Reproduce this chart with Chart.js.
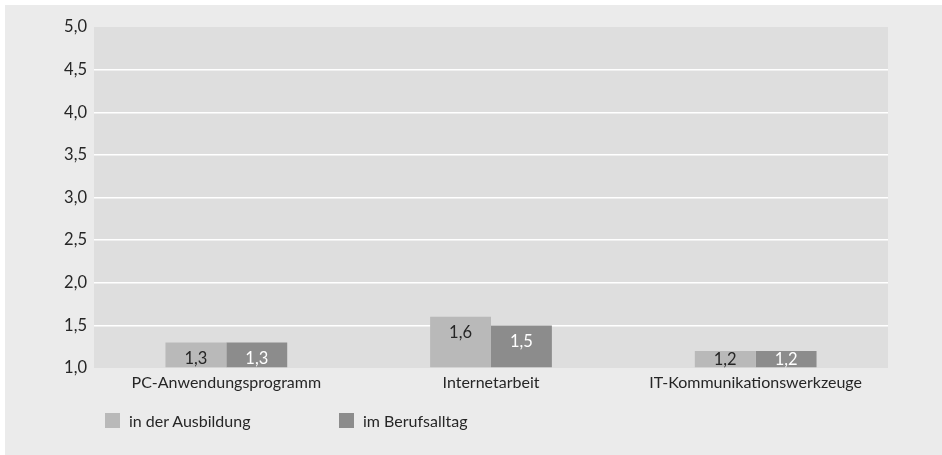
<!DOCTYPE html>
<html>
<head>
<meta charset="utf-8">
<script src="https://cdn.jsdelivr.net/npm/chart.js@4.4.1/dist/chart.umd.min.js"></script>
<style>
  body { margin: 0; background: #fff; font-family: Lato, "DejaVu Sans Condensed", sans-serif; }
  #panel { position: absolute; left: 5px; top: 5px; width: 937px; height: 450px; background: #ebebeb; }
  #chartBox { position: absolute; left: 0; top: 0; width: 937px; height: 450px; }
  .leg { position: absolute; top: 406px; font-size: 16px; color: #262626; line-height: 17px; }
  .leg span.box { position: absolute; left: 0; top: 2px; width: 15px; height: 15px; }
  .leg span.txt { position: absolute; left: 24px; top: 1px; white-space: nowrap; }
</style>
</head>
<body>
<div id="panel">
  <div id="chartBox"><canvas id="myChart"></canvas></div>
  <div class="leg" id="leg0" style="left:100px"><span class="box"></span><span class="txt"></span></div>
  <div class="leg" id="leg1" style="left:334px"><span class="box"></span><span class="txt"></span></div>
</div>
<script>
var FONT = 'Lato, "DejaVu Sans Condensed", sans-serif';

var categories = ['PC-Anwendungsprogramm', 'Internetarbeit', 'IT-Kommunikationswerkzeuge'];
var seriesNames = ['in der Ausbildung', 'im Berufsalltag'];
var ausbildung = [1.3, 1.6, 1.2];
var berufsalltag = [1.3, 1.5, 1.2];
var barColors = ['#b9b9b9', '#8c8c8c'];
var labelColors = ['#262626', '#ffffff'];

function deNum(v) {
  return v.toFixed(1).replace('.', ',');
}

// grey plot background behind the bars
var plotBg = {
  id: 'plotBg',
  beforeDraw: function(chart) {
    var a = chart.chartArea, c = chart.ctx;
    c.save();
    c.fillStyle = '#dedede';
    c.fillRect(a.left, a.top, a.right - a.left, a.bottom - a.top);
    c.restore();
  }
};

// value written inside the top of each bar, kept above the axis for short bars
var barValues = {
  id: 'barValues',
  afterDatasetsDraw: function(chart) {
    var c = chart.ctx;
    c.save();
    c.font = '16.5px ' + FONT;
    c.textAlign = 'center';
    c.textBaseline = 'middle';
    chart.data.datasets.forEach(function(ds, i) {
      chart.getDatasetMeta(i).data.forEach(function(bar, j) {
        c.fillStyle = labelColors[i];
        var y = Math.min(bar.y + 16, bar.base - 8);
        c.fillText(deNum(ds.data[j]), bar.x, y);
      });
    });
    c.restore();
  }
};

var ctx = document.getElementById('myChart').getContext('2d');

var chart = new Chart(ctx, {
  type: 'bar',
  data: {
    labels: categories,
    datasets: [{
      label: seriesNames[0],
      backgroundColor: barColors[0],
      data: ausbildung,
      base: 1
    },
    {
      label: seriesNames[1],
      backgroundColor: barColors[1],
      data: berufsalltag,
      base: 1
    }]
  },
  options: {
    responsive: true,
    maintainAspectRatio: false,
    animation: false,
    layout: { padding: { left: 0, right: 54, top: 22, bottom: 0 } },
    categoryPercentage: 0.46,
    barPercentage: 1,
    plugins: {
      legend: { display: false },
      tooltip: { enabled: false }
    },
    scales: {
      x: {
        grid: { display: false, drawTicks: false },
        border: { display: false },
        ticks: { color: '#262626', font: { family: FONT, size: 16 }, padding: 5 },
        afterFit: function(scale) { scale.height = 87; }
      },
      y: {
        min: 1,
        max: 5,
        grid: {
          color: function(c) {
            var v = c.tick && c.tick.value;
            return (v === 1 || v === 5) ? 'rgba(0,0,0,0)' : '#ffffff';
          },
          lineWidth: 1.5,
          drawTicks: false
        },
        border: { display: false },
        ticks: {
          stepSize: 0.5,
          color: '#262626',
          padding: 7,
          font: { family: FONT, size: 16.5 },
          callback: function(v) { return deNum(v); }
        },
        afterFit: function(scale) { scale.width = 89; }
      }
    }
  },
  plugins: [plotBg, barValues]
});

seriesNames.forEach(function(name, i) {
  var el = document.getElementById('leg' + i);
  el.querySelector('.box').style.background = barColors[i];
  el.querySelector('.txt').textContent = name;
});
</script>
</body>
</html>
